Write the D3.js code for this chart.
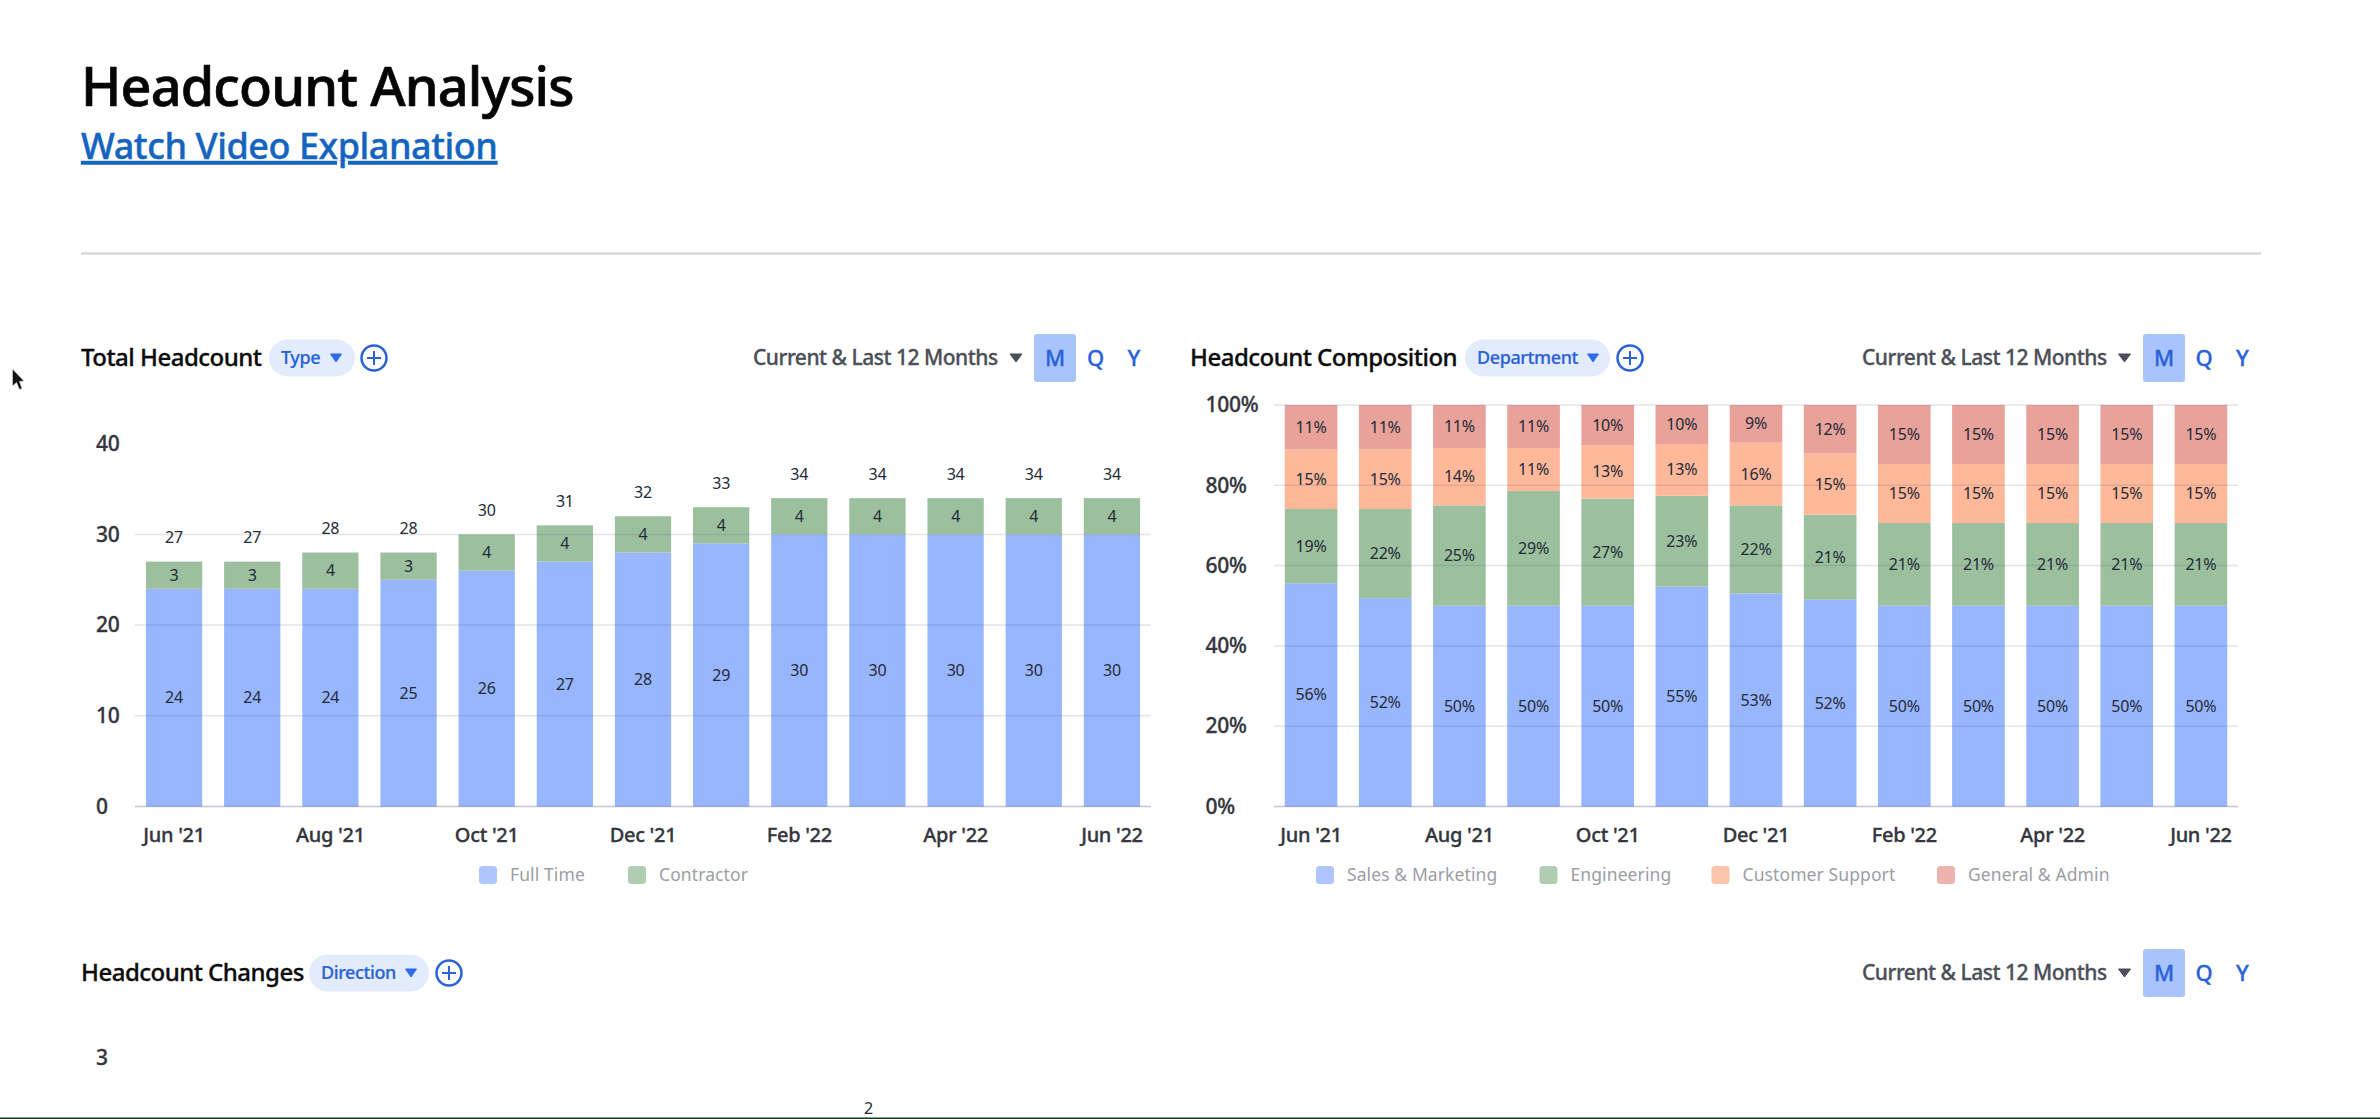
<!DOCTYPE html>
<html>
<head>
<meta charset="utf-8">
<title>Headcount Analysis</title>
<script src="https://cdn.jsdelivr.net/npm/d3@7"></script>
<style>
  html, body { margin: 0; padding: 0; background: #fff; }
  svg { display: block; font-family: "Noto Sans", sans-serif; }
  .tick-label { font-size: 20px; font-weight: 500; fill: #33363d; stroke: #33363d; stroke-width: 0.3px; letter-spacing: -0.3px; }
  .y-label { font-size: 21px; }
  .value-label { font-size: 16px; fill: #232a38; letter-spacing: -0.2px; }
  .legend-label { font-size: 17.5px; fill: #9b9ea5; letter-spacing: 0.1px; }
  .section-title { font-size: 24px; font-weight: 500; fill: #0c0c0c; stroke: #0c0c0c; stroke-width: 0.3px; letter-spacing: -0.52px; }
  .pill-label { font-size: 18px; font-weight: 500; fill: #2a62d9; stroke: #2a62d9; stroke-width: 0.2px; letter-spacing: -0.4px; }
  .range-label { font-size: 21px; font-weight: 500; fill: #4b4f58; stroke: #4b4f58; stroke-width: 0.3px; letter-spacing: -0.5px; }
  .period-label { font-size: 22px; font-weight: 500; fill: #2a62d9; stroke: #2a62d9; stroke-width: 0.3px; }
  .page-title { stroke: #050505; stroke-width: 0.7px; }
  .page-link { stroke: #1565c0; stroke-width: 0.4px; }
</style>
</head>
<body>
<svg id="chart" width="2380" height="1119"></svg>
<script>
const months = ["Jun '21", "Jul '21", "Aug '21", "Sep '21", "Oct '21", "Nov '21", "Dec '21", "Jan '22", "Feb '22", "Mar '22", "Apr '22", "May '22", "Jun '22"];
const monthTicks = ["Jun '21", "Aug '21", "Oct '21", "Dec '21", "Feb '22", "Apr '22", "Jun '22"];

// Total Headcount
const typeNames = ["Full Time", "Contractor"];
const fullTime = [24, 24, 24, 25, 26, 27, 28, 29, 30, 30, 30, 30, 30];
const contractor = [3, 3, 4, 3, 4, 4, 4, 4, 4, 4, 4, 4, 4];
const totalTicks = [0, 10, 20, 30, 40];
const totalGrid = [0, 10, 20, 30];

// Headcount Composition (%)
const departmentNames = ["Sales & Marketing", "Engineering", "Customer Support", "General & Admin"];
const salesMarketing = [55.6, 51.9, 50, 50, 50, 54.8, 53.1, 51.5, 50, 50, 50, 50, 50];
const engineering = [18.5, 22.2, 25, 28.6, 26.7, 22.6, 21.9, 21.2, 20.6, 20.6, 20.6, 20.6, 20.6];
const customerSupport = [14.8, 14.8, 14.3, 10.7, 13.3, 12.9, 15.6, 15.2, 14.7, 14.7, 14.7, 14.7, 14.7];
const generalAdmin = [11.1, 11.1, 10.7, 10.7, 10, 9.7, 9.4, 12.1, 14.7, 14.7, 14.7, 14.7, 14.7];
const percentTicks = [0, 20, 40, 60, 80, 100];

// Headcount Changes, cut off by the bottom of the picture
const changesTicks = [3];
const changesMonths = ["Oct '21"];
const changesTotals = [2];

const barColors = ["#98b6fd", "#9cc09e", "#ffb899", "#e8a29a"];
const swatchColors = ["#aec6fd", "#b0cdb2", "#fcc4ab", "#eeb3ac"];
const BLUE = "#2a62d9";

const svg = d3.select("#chart");

function drawStackedChart(opts) {
  const g = svg.append("g");
  const x = d3.scaleBand()
    .domain(months)
    .range(opts.xRange)
    .paddingInner(opts.padding)
    .paddingOuter(opts.padding / 2);
  const y = d3.scaleLinear().domain(opts.yDomain).range(opts.yRange);

  const rows = months.map((m, i) => {
    const row = { month: m };
    opts.names.forEach((n, k) => (row[n] = opts.series[k][i]));
    return row;
  });
  const stacked = d3.stack().keys(opts.names)(rows);

  const layers = g.selectAll(".layer")
    .data(stacked)
    .join("g")
    .attr("fill", (d, i) => barColors[i]);

  layers.selectAll("rect")
    .data((d) => d)
    .join("rect")
    .attr("x", (d) => x(d.data.month))
    .attr("y", (d) => y(d[1]))
    .attr("width", x.bandwidth())
    .attr("height", (d) => y(d[0]) - y(d[1]));

  // las lineas van encima de las barras
  g.selectAll(".grid")
    .data(opts.grid)
    .join("line")
    .attr("x1", opts.xRange[0])
    .attr("x2", opts.xRange[1])
    .attr("y1", (d) => y(d))
    .attr("y2", (d) => y(d))
    .attr("stroke", (d) => (d === 0 ? "rgba(60,70,110,0.3)" : "rgba(60,70,110,0.14)"))
    .attr("stroke-width", 1.5);

  const yAxis = g.append("g")
    .attr("transform", `translate(${opts.xRange[0]},0)`)
    .call(d3.axisLeft(y).tickValues(opts.ticks).tickSize(0).tickFormat(opts.tickFormat))
    .attr("font-family", null)
    .attr("font-size", null);
  yAxis.select(".domain").remove();
  yAxis.selectAll("text")
    .attr("class", "tick-label y-label")
    .attr("x", opts.yLabelX - opts.xRange[0])
    .attr("text-anchor", "start");

  const xAxis = g.append("g")
    .attr("transform", `translate(0,${opts.yRange[0]})`)
    .call(d3.axisBottom(x).tickValues(monthTicks).tickSize(0))
    .attr("font-family", null)
    .attr("font-size", null);
  xAxis.select(".domain").remove();
  xAxis.selectAll("text")
    .attr("class", "tick-label")
    .attr("y", 35)
    .attr("dy", 0);

  layers.selectAll("text")
    .data((d) => d)
    .join("text")
    .attr("class", "value-label")
    .attr("x", (d) => x(d.data.month) + x.bandwidth() / 2)
    .attr("y", (d) => (y(d[0]) + y(d[1])) / 2)
    .attr("dy", ".35em")
    .attr("text-anchor", "middle")
    .text((d) => opts.valueFormat(d[1] - d[0]));

  if (opts.showTotals) {
    g.selectAll(".total")
      .data(stacked[stacked.length - 1])
      .join("text")
      .attr("class", "value-label")
      .attr("x", (d) => x(d.data.month) + x.bandwidth() / 2)
      .attr("y", (d) => y(d[1]) - 24)
      .attr("dy", ".35em")
      .attr("text-anchor", "middle")
      .text((d) => d[1]);
  }

  opts.names.forEach((n, i) => {
    svg.append("rect")
      .attr("x", opts.legendX[i])
      .attr("y", opts.legendY - 9)
      .attr("width", 18)
      .attr("height", 18)
      .attr("rx", 3.5)
      .attr("fill", swatchColors[i]);
    svg.append("text")
      .attr("class", "legend-label")
      .attr("x", opts.legendX[i] + 31)
      .attr("y", opts.legendY)
      .attr("dy", ".35em")
      .text(n);
  });
}

function triangle(cx, cy, w, h, color) {
  svg.append("path")
    .attr("d", d3.line()([[cx - w / 2, cy - h / 2], [cx + w / 2, cy - h / 2], [cx, cy + h / 2]]) + "Z")
    .attr("fill", color)
    .attr("stroke", color)
    .attr("stroke-linejoin", "round");
}

function drawHeader(h) {
  svg.append("text").attr("class", "section-title").attr("x", h.titleX).attr("y", h.y + 8).text(h.title);

  svg.append("rect")
    .attr("x", h.pill[0])
    .attr("y", h.y - 18.5)
    .attr("width", h.pill[1] - h.pill[0])
    .attr("height", 37)
    .attr("rx", 18.5)
    .attr("fill", "#e3ecfd");
  svg.append("text").attr("class", "pill-label").attr("x", h.pill[0] + 12).attr("y", h.y).attr("dy", ".35em").text(h.pillLabel);
  triangle(h.pillTri, h.y, 11, 8, "#2f6bf0");

  svg.append("circle").attr("cx", h.plus).attr("cy", h.y).attr("r", 12.5).attr("fill", "none").attr("stroke", BLUE).attr("stroke-width", 2.5);
  svg.append("path")
    .attr("d", `M${h.plus - 7},${h.y}H${h.plus + 7}M${h.plus},${h.y - 7}V${h.y + 7}`)
    .attr("stroke", BLUE)
    .attr("stroke-width", 2);

  svg.append("text").attr("class", "range-label").attr("x", h.range).attr("y", h.y).attr("dy", ".35em").text("Current & Last 12 Months");
  triangle(h.rangeTri, h.y, 12, 8, "#4b4f58");

  svg.append("rect")
    .attr("x", h.box)
    .attr("y", h.y - 24)
    .attr("width", 42)
    .attr("height", 48)
    .attr("rx", 3)
    .attr("fill", "#a9c3fd");
  ["M", "Q", "Y"].forEach((p, i) => {
    svg.append("text")
      .attr("class", "period-label")
      .attr("x", h.periods[i])
      .attr("y", h.y)
      .attr("dy", ".35em")
      .attr("text-anchor", "middle")
      .text(p);
  });
}

// Cabecera
svg.append("text")
  .attr("class", "page-title")
  .attr("x", 81)
  .attr("y", 106)
  .attr("font-size", 54)
  .attr("font-weight", 500)
  .attr("letter-spacing", "-0.85px")
  .attr("fill", "#050505")
  .text("Headcount Analysis");
svg.append("text")
  .attr("class", "page-link")
  .attr("x", 81)
  .attr("y", 159)
  .attr("font-size", 36)
  .attr("font-weight", 500)
  .attr("letter-spacing", "-0.45px")
  .attr("fill", "#1565c0")
  .attr("text-decoration", "underline")
  .text("Watch Video Explanation");
svg.append("line")
  .attr("x1", 81)
  .attr("x2", 2261)
  .attr("y1", 253.5)
  .attr("y2", 253.5)
  .attr("stroke", "#cfcfcf")
  .attr("stroke-width", 2);

drawHeader({
  y: 358, titleX: 81, title: "Total Headcount",
  pill: [269, 355], pillLabel: "Type", pillTri: 336, plus: 374,
  range: 753, rangeTri: 1016, box: 1034, periods: [1055, 1095.5, 1134],
});
drawHeader({
  y: 358, titleX: 1190, title: "Headcount Composition",
  pill: [1465, 1610], pillLabel: "Department", pillTri: 1593, plus: 1630,
  range: 1862, rangeTri: 2124.5, box: 2143, periods: [2164, 2204, 2242.5],
});
drawHeader({
  y: 973, titleX: 81, title: "Headcount Changes",
  pill: [309, 429], pillLabel: "Direction", pillTri: 411, plus: 449,
  range: 1862, rangeTri: 2124.5, box: 2143, periods: [2164, 2204, 2242.5],
});

drawStackedChart({
  names: typeNames,
  series: [fullTime, contractor],
  xRange: [135, 1151],
  padding: 0.28,
  yDomain: [0, 40],
  yRange: [806.5, 443.7],
  ticks: totalTicks,
  grid: totalGrid,
  yLabelX: 96,
  tickFormat: d3.format("d"),
  valueFormat: d3.format("d"),
  showTotals: true,
  legendX: [479, 628],
  legendY: 875,
});

drawStackedChart({
  names: departmentNames,
  series: [salesMarketing, engineering, customerSupport, generalAdmin],
  xRange: [1274, 2238],
  padding: 0.29,
  yDomain: [0, 100],
  yRange: [806.5, 405],
  ticks: percentTicks,
  grid: percentTicks,
  yLabelX: 1205.5,
  tickFormat: (d) => d + "%",
  valueFormat: (d) => Math.round(+d.toFixed(1)) + "%",
  showTotals: false,
  legendX: [1316, 1539.5, 1711.5, 1937],
  legendY: 875,
});

// Tercer grafico: solo se ve el principio
const changesX = d3.scaleBand().domain(months).range([135, 2254]);
const changesY = d3.scaleLinear().domain([0, 3]).range([1280, 1058]);
svg.selectAll(".changes-tick")
  .data(changesTicks)
  .join("text")
  .attr("class", "tick-label y-label")
  .attr("x", 96)
  .attr("y", (d) => changesY(d))
  .attr("dy", ".35em")
  .text((d) => d);
svg.selectAll(".changes-total")
  .data(changesTotals)
  .join("text")
  .attr("class", "value-label")
  .attr("x", (d, i) => changesX(changesMonths[i]) + changesX.bandwidth() / 2)
  .attr("y", (d) => changesY(d) - 24)
  .attr("dy", ".35em")
  .attr("text-anchor", "middle")
  .text((d) => d);

svg.append("rect").attr("x", 0).attr("y", 1117.5).attr("width", 2380).attr("height", 1.5).attr("fill", "#0d3b1e");

// puntero del raton
svg.append("path")
  .attr("d", "M12.5,369 L12.5,386 L16.5,382.5 L19.5,389.5 L22,388.5 L19.5,381.5 L24,381 Z")
  .attr("fill", "#111")
  .attr("stroke", "#ddd")
  .attr("stroke-width", 0.6);
</script>
</body>
</html>
